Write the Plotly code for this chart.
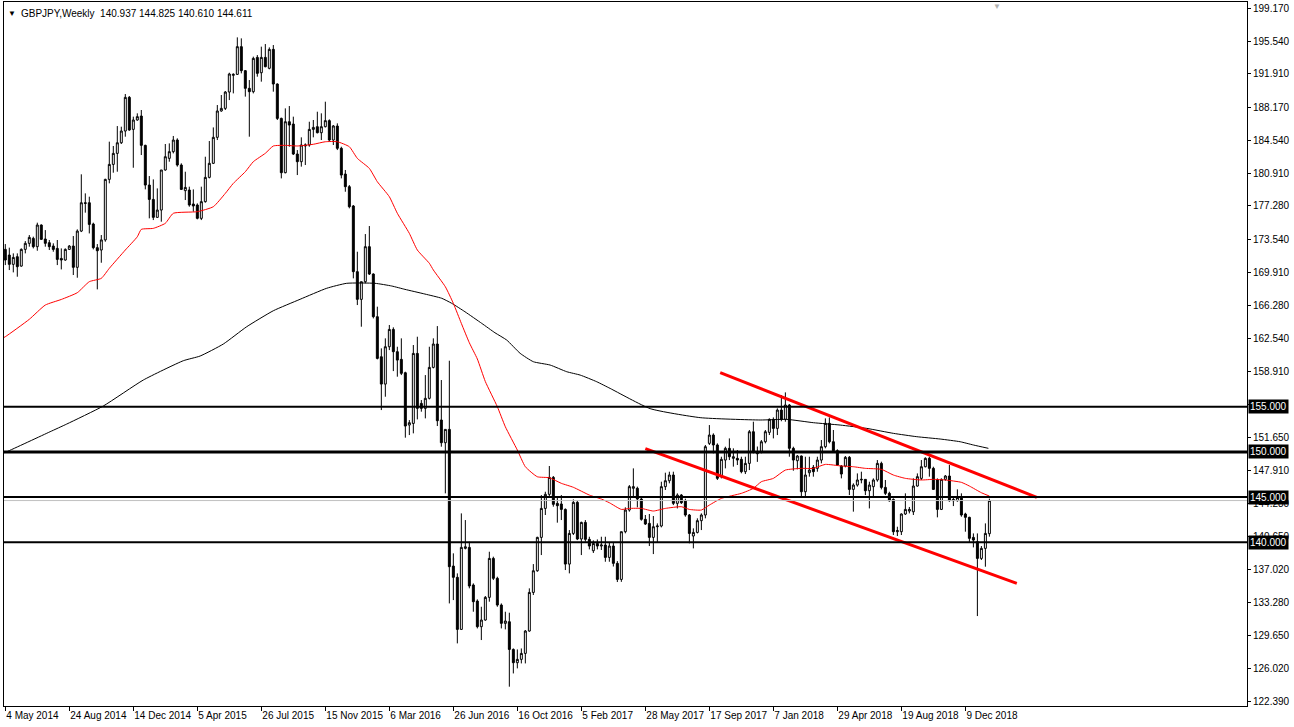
import pandas as pd
import plotly.graph_objects as go

# ---------------- data ----------------
symbol = "GBPJPY"
period = "Weekly"
first_week = "2014-05-04"

opens = [172.45, 171.82, 170.79, 171.64, 170.60, 172.45, 173.12, 173.67, 172.75, 175.15,
         173.60, 173.19, 172.82, 172.56, 171.45, 171.27, 172.45, 172.82, 170.46, 174.48,
         177.62, 177.62, 175.26, 172.64, 172.38, 173.50, 180.21, 181.87, 183.09, 184.27,
         185.57, 189.30, 185.75, 186.79, 187.23, 183.98, 179.58, 177.99, 176.00, 176.81,
         181.25, 182.54, 183.28, 184.57, 181.80, 178.96, 179.03, 177.48, 177.37, 175.89,
         177.74, 180.43, 181.99, 184.87, 187.79, 188.08, 189.89, 191.74, 191.85, 194.92,
         192.26, 190.30, 189.93, 193.73, 192.03, 193.73, 192.52, 194.62, 190.78, 186.97,
         180.95, 186.60, 186.34, 183.02, 182.17, 183.91, 184.02, 185.75, 186.05, 185.38,
         186.05, 186.72, 184.57, 186.12, 183.65, 180.80, 179.40, 177.26, 169.98, 166.91,
         168.87, 172.75, 169.72, 164.99, 160.55, 157.52, 161.66, 163.58, 161.11, 160.26,
         158.78, 152.98, 153.16, 160.92, 155.38, 154.83, 155.94, 159.37, 161.96, 153.54,
         151.02, 152.50, 137.35, 136.10, 130.33, 139.31, 139.42, 135.25, 133.47, 130.63,
         131.37, 133.88, 138.20, 135.99, 133.03, 131.00, 131.18, 128.11, 126.64, 127.01,
         127.67, 130.15, 134.43, 136.83, 140.53, 143.74, 145.30, 147.18, 144.30, 144.23,
         143.63, 137.57, 140.97, 144.41, 140.35, 142.19, 140.31, 139.05, 139.86, 139.57,
         139.68, 138.31, 139.57, 137.65, 135.87, 141.16, 143.56, 145.97, 145.97, 144.78,
         142.53, 142.08, 140.53, 141.71, 141.79, 146.15, 146.81, 147.44, 144.30, 145.22,
         144.60, 143.01, 140.68, 141.08, 142.38, 143.01, 150.95, 151.87, 150.77, 147.26,
         149.10, 150.40, 149.29, 149.29, 149.18, 147.81, 148.73, 152.24, 150.03, 150.03,
         151.13, 152.17, 153.61, 152.61, 154.64, 153.61, 155.20, 150.40, 149.03, 149.55,
         145.59, 147.70, 148.29, 148.18, 149.10, 150.58, 153.17, 151.13, 150.14, 148.44,
         148.44, 149.40, 145.85, 146.33, 146.89, 146.96, 145.70, 146.15, 146.89, 148.73,
         146.07, 145.41, 144.74, 141.16, 141.16, 143.12, 143.45, 143.37, 146.22, 147.07,
         148.36, 149.29, 148.18, 146.89, 143.63, 146.96, 147.33, 144.74, 144.60, 144.96,
         143.12, 142.75, 140.53, 140.05, 138.20, 139.31, 140.937]

highs = [173.04, 172.64, 172.01, 172.01, 172.56, 173.37, 174.04, 173.86, 175.41, 175.22,
         174.59, 173.49, 173.12, 173.49, 172.56, 172.56, 172.93, 173.93, 174.67, 180.77,
         178.66, 178.29, 175.41, 173.04, 174.04, 180.28, 184.39, 183.91, 186.12, 186.05,
         189.67, 189.45, 187.16, 187.53, 187.90, 184.05, 180.58, 180.21, 179.21, 181.25,
         184.13, 184.20, 185.02, 184.76, 181.99, 181.06, 179.40, 179.10, 177.55, 179.40,
         182.72, 184.46, 185.97, 188.45, 189.56, 190.00, 192.03, 191.96, 195.95, 195.84,
         192.33, 191.22, 193.81, 193.99, 194.92, 195.21, 194.84, 195.10, 190.85, 187.05,
         188.08, 188.34, 187.16, 183.46, 184.87, 184.20, 186.60, 186.79, 187.71, 187.53,
         188.82, 186.86, 186.23, 186.42, 183.83, 181.25, 179.58, 177.37, 172.19, 168.87,
         174.15, 175.04, 169.79, 166.10, 161.48, 162.59, 164.07, 163.81, 161.66, 162.59,
         158.89, 153.53, 161.85, 162.77, 155.75, 158.52, 161.66, 162.59, 163.95, 157.97,
         152.50, 160.11, 138.76, 136.54, 143.19, 142.45, 140.05, 135.43, 133.66, 132.84,
         134.03, 138.94, 138.39, 136.17, 133.21, 132.29, 132.18, 128.22, 128.11, 128.22,
         130.26, 134.88, 137.57, 140.60, 145.22, 145.59, 148.44, 147.33, 145.04, 145.22,
         143.74, 141.34, 144.74, 144.60, 142.27, 142.45, 140.60, 140.20, 140.30, 140.60,
         140.60, 139.94, 139.90, 137.90, 141.16, 143.86, 146.33, 148.18, 146.15, 144.97,
         143.01, 143.12, 142.90, 142.08, 146.70, 147.70, 147.81, 147.81, 145.41, 145.33,
         144.82, 143.12, 141.53, 142.64, 143.19, 150.77, 152.98, 152.06, 150.95, 149.47,
         150.58, 151.50, 150.40, 150.21, 149.47, 149.47, 152.43, 153.35, 150.60, 151.32,
         152.43, 153.72, 153.83, 154.83, 156.31, 156.60, 155.31, 150.58, 149.66, 149.60,
         149.47, 149.47, 148.55, 149.47, 151.32, 153.72, 153.83, 152.43, 150.29, 148.55,
         149.55, 149.55, 146.52, 147.62, 147.81, 146.96, 146.70, 147.07, 149.10, 148.92,
         146.89, 145.59, 144.85, 141.71, 143.19, 145.41, 143.90, 147.07, 147.62, 149.10,
         149.40, 149.47, 148.36, 147.07, 147.07, 147.44, 148.55, 145.04, 145.85, 145.41,
         143.26, 142.82, 140.97, 140.97, 139.57, 142.08, 144.825]

lows = [170.71, 170.16, 169.90, 169.42, 170.53, 172.01, 172.75, 172.56, 172.30, 173.49,
        172.75, 172.38, 172.19, 170.71, 170.23, 171.19, 172.38, 169.61, 169.31, 174.37,
        176.52, 174.22, 172.45, 168.02, 170.97, 173.30, 179.77, 180.95, 181.06, 184.13,
        184.94, 185.60, 181.50, 186.71, 182.91, 179.10, 175.89, 175.70, 175.96, 175.52,
        181.17, 182.17, 183.09, 181.62, 179.03, 177.92, 177.18, 176.63, 175.78, 175.70,
        177.63, 180.32, 181.91, 184.57, 187.71, 187.90, 189.00, 189.74, 191.78, 191.96,
        189.38, 184.94, 189.74, 191.59, 191.04, 192.63, 192.41, 189.93, 186.79, 180.32,
        180.88, 183.83, 182.91, 180.69, 181.62, 181.80, 183.83, 184.87, 185.31, 184.57,
        185.97, 184.39, 184.02, 183.46, 180.32, 178.84, 177.00, 169.24, 166.28, 163.88,
        168.68, 169.61, 164.80, 160.26, 154.64, 156.12, 161.29, 158.96, 158.34, 158.52,
        151.58, 151.87, 152.06, 153.61, 154.46, 153.72, 155.82, 159.26, 152.87, 150.58,
        145.41, 133.21, 133.58, 128.78, 130.26, 139.20, 134.88, 132.29, 130.44, 129.15,
        131.29, 133.40, 135.80, 132.84, 130.44, 130.33, 123.98, 125.45, 126.01, 126.56,
        126.56, 130.07, 134.14, 136.72, 138.57, 143.01, 145.11, 143.93, 142.16, 142.45,
        136.91, 136.54, 140.79, 140.23, 138.57, 140.05, 139.20, 138.80, 139.20, 139.13,
        137.83, 137.83, 137.30, 135.58, 135.60, 140.98, 143.38, 145.04, 143.86, 142.38,
        141.90, 139.57, 138.68, 139.94, 141.64, 145.78, 146.52, 144.11, 143.74, 144.23,
        142.82, 139.87, 139.31, 140.97, 141.34, 142.64, 150.77, 149.84, 146.89, 147.07,
        148.18, 149.10, 148.37, 148.55, 147.63, 147.55, 147.99, 149.84, 148.90, 149.84,
        150.95, 151.87, 151.50, 151.87, 153.40, 153.35, 149.47, 147.92, 148.07, 145.04,
        145.04, 147.26, 147.26, 147.81, 148.73, 150.40, 150.95, 150.03, 148.44, 147.07,
        148.29, 145.22, 143.38, 146.15, 146.52, 145.22, 143.74, 145.04, 146.70, 145.85,
        145.22, 144.48, 140.79, 140.68, 140.79, 143.01, 143.19, 143.01, 146.15, 146.89,
        148.29, 147.26, 145.78, 142.75, 143.56, 146.81, 144.48, 144.00, 144.48, 142.82,
        141.16, 139.94, 139.42, 131.81, 138.02, 137.28, 140.610]

closes = [171.27, 170.79, 171.56, 170.53, 172.45, 173.12, 173.78, 172.75, 175.15, 173.56,
          173.12, 172.75, 172.45, 171.34, 171.27, 172.45, 172.82, 170.46, 174.48, 177.62,
          177.55, 175.22, 172.64, 172.30, 173.50, 180.21, 181.87, 183.09, 184.27, 185.57,
          189.30, 185.68, 186.79, 187.16, 183.98, 179.58, 177.99, 176.00, 176.81, 181.25,
          182.72, 183.28, 184.57, 181.80, 179.10, 179.32, 177.37, 177.26, 175.89, 177.74,
          180.43, 181.99, 184.87, 187.79, 188.08, 189.89, 191.89, 191.85, 194.92, 192.26,
          190.30, 189.93, 193.62, 191.96, 193.73, 192.70, 194.62, 190.78, 186.97, 180.95,
          186.60, 186.23, 183.02, 182.17, 184.02, 184.02, 185.75, 185.97, 185.38, 186.05,
          186.72, 184.57, 186.13, 183.65, 180.69, 179.40, 177.18, 169.98, 166.91, 168.87,
          172.75, 169.72, 164.99, 160.37, 157.52, 161.66, 163.58, 161.11, 160.18, 158.71,
          152.87, 153.24, 160.92, 154.83, 154.83, 155.94, 159.37, 161.96, 153.46, 151.02,
          152.50, 137.28, 136.10, 130.33, 139.42, 139.49, 135.14, 133.40, 130.63, 131.37,
          133.88, 138.20, 135.99, 133.03, 131.00, 131.26, 128.11, 126.64, 127.01, 127.67,
          130.15, 134.43, 136.83, 140.53, 143.74, 145.30, 147.18, 144.19, 144.04, 143.63,
          137.57, 140.97, 144.41, 140.35, 142.19, 140.31, 139.57, 139.86, 139.57, 139.68,
          138.31, 139.57, 137.65, 135.87, 141.16, 143.56, 146.15, 146.15, 144.78, 142.53,
          142.01, 140.53, 141.71, 141.79, 146.15, 146.81, 147.44, 144.30, 145.22, 144.37,
          143.01, 140.97, 141.08, 142.38, 143.01, 150.58, 151.87, 150.77, 147.07, 149.18,
          150.40, 149.47, 149.47, 149.10, 147.81, 148.73, 152.24, 150.03, 149.80, 151.13,
          152.24, 153.61, 152.61, 154.64, 153.61, 155.20, 150.40, 149.10, 149.55, 145.59,
          147.44, 147.99, 147.81, 149.10, 150.58, 153.17, 151.13, 150.14, 148.55, 147.55,
          149.40, 145.85, 146.33, 146.89, 146.96, 145.70, 146.33, 146.89, 148.73, 146.07,
          145.41, 144.59, 141.16, 141.27, 143.12, 143.63, 143.63, 146.22, 147.26, 148.36,
          149.29, 148.18, 145.85, 143.63, 146.96, 147.33, 144.60, 144.60, 144.96, 143.01,
          142.75, 140.42, 140.23, 138.20, 139.31, 140.97, 144.611]

# moving averages (bar position -> value)
red_ma_bars = [-1, 0, 6, 10, 14, 18, 21, 24, 26, 30, 33, 34, 37, 40, 42, 48, 52, 55, 57, 60, 62, 65, 67,
               70, 73, 77, 80, 83, 86, 88, 91, 93, 96, 98, 101, 103, 106, 107, 110, 112, 114, 116, 118,
               120, 123, 125, 128, 130, 133, 136, 139, 142, 146, 149, 151, 154, 156, 159, 162, 165, 169, 171, 174,
               176, 179, 184, 187, 189, 192, 195, 199, 202, 205, 209, 212, 215, 219, 222, 225, 229, 232, 235, 239,
               241, 244, 246]
red_ma_vals = [162.55, 162.77, 164.70, 166.28, 166.90, 167.65, 168.87, 169.24, 170.35, 172.38,
               173.85, 174.67, 174.78,
               175.34, 176.45, 176.63, 177.18, 178.66, 179.77, 181.06, 182.17, 183.10, 183.91,
               183.98, 183.91, 184.10, 184.38, 184.38, 183.83, 182.54, 181.43, 179.95, 178.29,
               176.45, 174.23, 172.38, 170.91, 170.17, 168.31, 166.47, 164.25, 162.10, 160.30,
               157.80, 155.01, 152.79, 150.21, 148.36, 147.25, 147.14, 146.52, 146.08, 145.22,
               144.78, 144.37, 143.63, 143.74, 143.74, 143.45, 143.74, 143.93, 143.63, 143.56,
               144.11, 144.85, 145.41, 145.96, 146.70, 147.07, 147.99, 148.18, 148.18, 148.62,
               148.44, 148.36, 148.18, 148.07, 147.44, 147.07, 146.89, 146.96, 146.89, 146.63,
               146.22, 145.48, 145.11]

black_ma_bars = [-1, 0.35, 11.2, 15.35, 24.5, 34.5, 44.5, 48.7, 54.5, 60.35, 67, 73.7, 80.35, 85.35,
                 92.4, 96.6, 99.9, 104.9, 109.1, 111.6, 114.9, 119.1, 122.4, 125.35, 128.7, 132, 136.2,
                 140.35, 143.7, 147.85, 151.2, 161.2, 173.7, 188.7, 195.35, 202, 208.7, 215.35, 222,
                 227.85, 233.7, 238.7, 242, 245.75]
black_ma_vals = [149.80, 150.02, 152.24, 153.09, 155.09, 157.97, 160.11, 160.63, 161.96, 163.88,
                 165.65, 166.92, 168.14, 168.69,
                 168.69, 168.39, 168.02, 167.50, 167.03, 166.47, 165.54, 164.25, 163.21, 162.40,
                 160.93, 160.00, 159.63, 158.89, 158.52, 157.78, 157.04, 154.80, 153.80, 153.54,
                 153.61, 153.24, 152.98, 152.61, 152.06, 151.69, 151.43, 151.13, 150.77, 150.40]

# horizontal levels and current bid
level_values = [155.0, 150.0, 145.0, 140.0]
bid_price = 144.611

# channel trend lines
upper_channel_dates = ["2017-10-06", "2019-04-13"]
upper_channel_prices = [158.78, 144.97]
lower_channel_dates = ["2017-05-28", "2019-03-09"]
lower_channel_prices = [150.36, 135.44]

# axis ticks
price_ticks = [199.17, 195.54, 191.91, 188.17, 184.54, 180.91, 177.28, 173.54, 169.91, 166.28,
               162.54, 158.91, 155.28, 151.65, 147.91, 144.28, 140.65, 137.02, 133.28, 129.65,
               126.02, 122.39]
hidden_price_ticks = [155.28]
time_tick_dates = ["2014-05-04", "2014-08-24", "2014-12-14", "2015-04-05", "2015-07-26",
                   "2015-11-15", "2016-03-06", "2016-06-26", "2016-10-16", "2017-02-05",
                   "2017-05-28", "2017-09-17", "2018-01-07", "2018-04-29", "2018-08-19",
                   "2018-12-09"]
time_tick_labels = ["4 May 2014", "24 Aug 2014", "14 Dec 2014", "5 Apr 2015", "26 Jul 2015",
                    "15 Nov 2015", "6 Mar 2016", "26 Jun 2016", "16 Oct 2016", "5 Feb 2017",
                    "28 May 2017", "17 Sep 2017", "7 Jan 2018", "29 Apr 2018", "19 Aug 2018",
                    "9 Dec 2018"]

# ---------------- figure ----------------
W, H = 1294, 727
ML, MR, MT, MB = 4, 47, 2, 21
PW, PH = W - ML - MR, H - MT - MB
FONT = "Liberation Sans, Arial, sans-serif"

base = pd.Timestamp(first_week)
dates = pd.date_range(first_week, periods=len(opens), freq="7D")
week = pd.Timedelta(days=7)


def bar_time(b):
    return base + b * week


fig = go.Figure()

fig.add_trace(go.Candlestick(
    x=dates, open=opens, high=highs, low=lows, close=closes,
    increasing=dict(line=dict(color="black", width=1), fillcolor="white"),
    decreasing=dict(line=dict(color="black", width=1), fillcolor="black"),
    whiskerwidth=0, showlegend=False, hoverinfo="skip",
))

fig.add_trace(go.Scatter(
    x=[bar_time(b) for b in black_ma_bars], y=black_ma_vals, mode="lines",
    line=dict(color="black", width=1, shape="spline", smoothing=0.5),
    showlegend=False, hoverinfo="skip",
))
fig.add_trace(go.Scatter(
    x=[bar_time(b) for b in red_ma_bars], y=red_ma_vals, mode="lines",
    line=dict(color="red", width=1, shape="spline", smoothing=0.5),
    showlegend=False, hoverinfo="skip",
))

for xs, ys in [(upper_channel_dates, upper_channel_prices),
               (lower_channel_dates, lower_channel_prices)]:
    fig.add_trace(go.Scatter(
        x=xs, y=ys, mode="lines", line=dict(color="red", width=3),
        showlegend=False, hoverinfo="skip",
    ))

shapes = []
shapes.append(dict(type="line", xref="paper", x0=0, x1=1, yref="y", y0=bid_price, y1=bid_price,
                   line=dict(color="#C0C0C0", width=1), layer="above"))
level_line_width = {150.0: 3}
for lv in level_values:
    shapes.append(dict(type="line", xref="paper", x0=0, x1=1, yref="y", y0=lv, y1=lv,
                       line=dict(color="black", width=level_line_width.get(lv, 2)), layer="above"))

annotations = []
for lv in level_values:
    annotations.append(dict(
        xref="paper", x=1, xanchor="left", xshift=1, yref="y", y=lv, yanchor="middle",
        text=f"{lv:.3f}", showarrow=False, bgcolor="black", borderpad=1,
        font=dict(family=FONT, size=10, color="white"),
    ))

title_text = (f"{symbol},{period}  {opens[-1]:.3f} {highs[-1]:.3f} "
              f"{lows[-1]:.3f} {closes[-1]:.3f}")
annotations.append(dict(
    xref="paper", yref="paper", x=(6 - ML) / PW, y=1 - (13 - MT) / PH,
    xanchor="left", yanchor="middle", text="▼", showarrow=False,
    font=dict(family=FONT, size=8, color="black"),
))
annotations.append(dict(
    xref="paper", yref="paper", x=(19 - ML) / PW, y=1 - (13 - MT) / PH,
    xanchor="left", yanchor="middle", text=title_text, showarrow=False,
    font=dict(family=FONT, size=10, color="black"),
))
annotations.append(dict(
    xref="paper", yref="paper", x=(997 - ML) / PW, y=1 - (6 - MT) / PH,
    xanchor="center", yanchor="middle", text="▼", showarrow=False,
    font=dict(family=FONT, size=8, color="#B0B0B0"),
))

x_start = base + (-0.325) * week
x_end = base + 310.4 * week

fig.update_layout(
    width=W, height=H,
    margin=dict(l=ML, r=MR, t=MT, b=MB, pad=0, autoexpand=False),
    paper_bgcolor="white", plot_bgcolor="white",
    showlegend=False,
    shapes=shapes, annotations=annotations,
    font=dict(family=FONT, size=10, color="black"),
    xaxis=dict(
        type="date", range=[x_start, x_end], rangeslider=dict(visible=False),
        tickmode="array", tickvals=time_tick_dates, ticktext=time_tick_labels,
        ticks="outside", ticklen=4, tickcolor="black", tickwidth=1, tickangle=0,
        ticklabelposition="outside right", automargin=False,
        showgrid=False, zeroline=False, showline=True, linecolor="black", linewidth=1,
        mirror=True, tickfont=dict(family=FONT, size=10, color="black"),
    ),
    yaxis=dict(
        side="right", range=[121.84, 199.87], automargin=False,
        tickmode="array", tickvals=price_ticks,
        ticktext=["" if v in hidden_price_ticks else f"{v:.3f}" for v in price_ticks],
        ticks="outside", ticklen=3, tickcolor="black", tickwidth=1,
        showgrid=False, zeroline=False, showline=True, linecolor="black", linewidth=1,
        mirror=True, tickfont=dict(family=FONT, size=10, color="black"),
    ),
)

fig.write_html(
    "out.html",
    config={"displayModeBar": False, "staticPlot": True},
    post_script="document.body.style.margin='0';document.body.style.padding='0';"
                "document.body.style.overflow='hidden';",
)
